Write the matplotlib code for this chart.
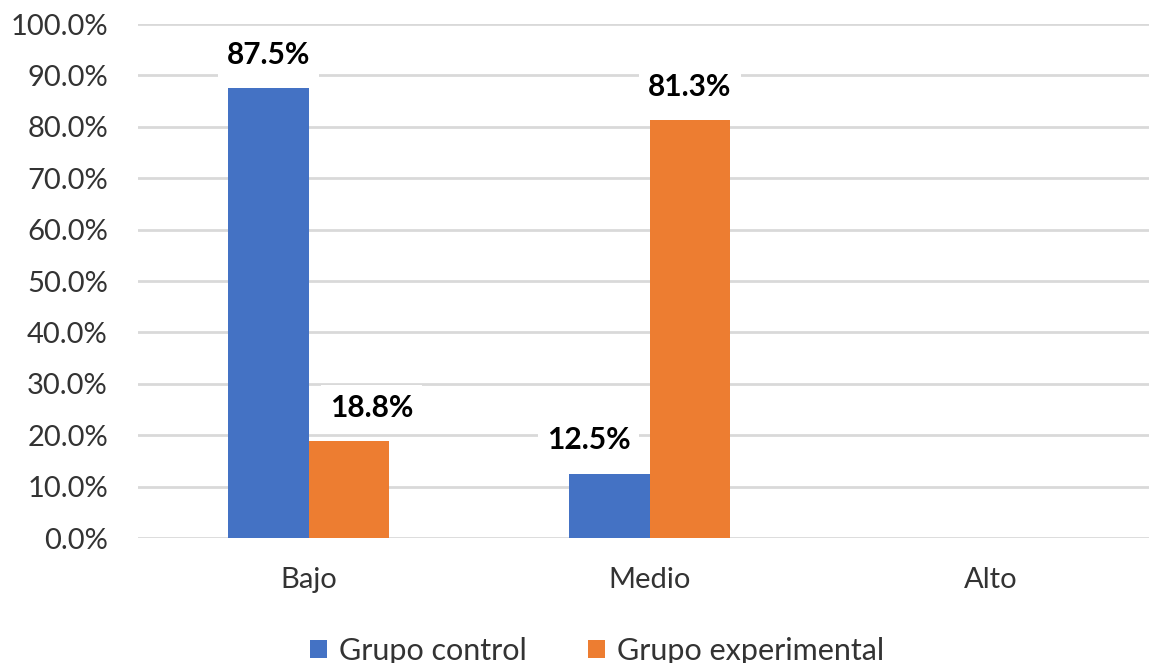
import matplotlib
matplotlib.use("Agg")
import matplotlib.pyplot as plt
from matplotlib.patches import Patch
import numpy as np

categories = ["Bajo", "Medio", "Alto"]
series_names = ["Grupo control", "Grupo experimental"]
control = [87.5, 12.5, 0.0]
experimental = [18.8, 81.3, 0.0]
yticks = [0, 10, 20, 30, 40, 50, 60, 70, 80, 90, 100]
colors = ["#4472C4", "#ED7D31"]

# horizontal nudges (points) keeping short-bar labels clear of the taller neighbour
label_nudge = {(1, 0): 16, (0, 1): -15}

plt.rcParams["font.family"] = ["Lato", "DejaVu Sans"]

fig = plt.figure(figsize=(11.49, 6.63), dpi=100)
ax = fig.add_axes([0.1205, 0.1885, 0.89, 0.7753])

x = np.arange(len(categories))
w = 0.236
for i, (vals, col) in enumerate(zip([control, experimental], colors)):
    pos = x + (i - 0.5) * w
    bars = ax.bar(pos, vals, width=w, color=col, zorder=2)
    for j, (b, v) in enumerate(zip(bars, vals)):
        if v > 0:
            ax.annotate(f"{v:.1f}%", (b.get_x() + b.get_width() / 2, v),
                        xytext=(label_nudge.get((i, j), 0), 24),
                        textcoords="offset points",
                        ha="center", va="center", fontsize=21.5,
                        fontweight="bold", color="black", zorder=1.5,
                        bbox=dict(boxstyle="square,pad=0.3", fc="white",
                                  ec="none"))

ax.set_xlim(-0.5, 2.5)
ax.set_ylim(0, 100)
ax.set_yticks(yticks)
ax.set_yticklabels([f"{t:.1f}%" for t in yticks])
ax.set_xticks(x)
ax.set_xticklabels(categories)
ax.yaxis.grid(True, color="#D9D9D9", linewidth=2, zorder=0)
ax.set_axisbelow(True)
for s in ax.spines.values():
    s.set_visible(False)
ax.tick_params(axis="both", length=0, labelsize=21, colors="#333333")
ax.tick_params(axis="y", pad=22)
ax.tick_params(axis="x", pad=21)

handles = [Patch(facecolor=c, edgecolor="none") for c in colors]
fig.legend(handles, series_names, loc="center", ncol=2,
           bbox_to_anchor=(0.52, 0.018), frameon=False, fontsize=22,
           handlelength=0.55, handleheight=0.55, handletextpad=0.4,
           columnspacing=2.0, labelcolor="#333333")

fig.savefig("out.png", dpi=100, facecolor="white")
